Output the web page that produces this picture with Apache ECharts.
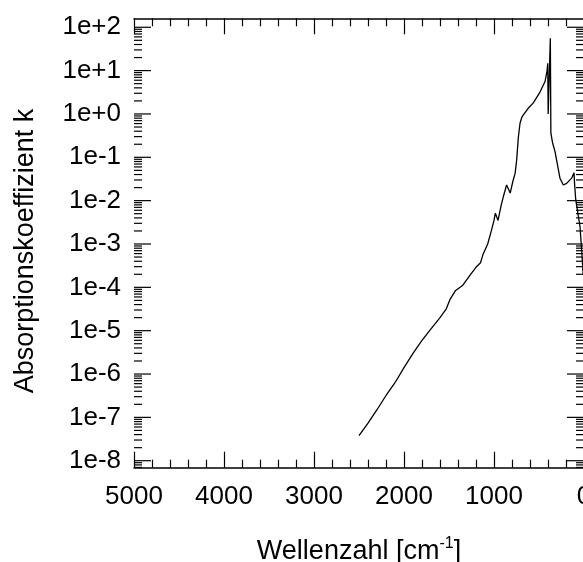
<!DOCTYPE html>
<html>
<head>
<meta charset="utf-8">
<script src="https://cdn.jsdelivr.net/npm/echarts@6/dist/echarts.min.js"></script>
<style>
html, body { margin: 0; padding: 0; background: #fff; }
#chart { width: 583px; height: 562px; }
</style>
</head>
<body>
<div id="chart"></div>
<script>
// Wellenzahl [cm^-1] and Absorptionskoeffizient k
const wavenumber = [2500, 2400, 2300, 2200, 2100, 2000, 1900, 1800, 1700, 1600,
    1530, 1490, 1430, 1350, 1260, 1200, 1150, 1120, 1070, 1030,
    1000, 985, 955, 920, 895, 860, 820, 790, 765, 748,
    730, 711, 690, 674, 620, 563, 489, 433, 410, 403,
    398, 374, 368, 350, 322, 300, 267, 230, 193, 137,
    111, 105, 92, 44, 26, 19, 10]
const kValues = [3.8e-8, 7.4e-8, 1.5e-7, 3.2e-7, 6.3e-7, 1.4e-6, 3.0e-6, 6.0e-6, 1.1e-5, 2.0e-5,
    3.2e-5, 5.2e-5, 8.3e-5, 1.1e-4, 2.0e-4, 2.9e-4, 3.7e-4, 5.9e-4, 1.0e-3, 2.0e-3,
    3.5e-3, 5.1e-3, 3.5e-3, 7.9e-3, 1.26e-2, 2.3e-2, 1.5e-2, 2.8e-2, 4.3e-2, 8.7e-2,
    0.28, 0.61, 0.85, 0.95, 1.35, 1.8, 3.2, 5.6, 10, 14.8,
    1.0, 56, 0.36, 0.22, 0.135, 0.13, 0.033, 0.023, 0.025, 0.033,
    0.044, 0.025, 0.0105, 0.0025, 7.2e-4, 4.3e-4, 2e-4]

const xTickLabels = ['0', '1000', '2000', '3000', '4000', '5000']
const yTickLabels = ['1e-8', '1e-7', '1e-6', '1e-5', '1e-4', '1e-3', '1e-2', '1e-1', '1e+0', '1e+1', '1e+2']
// frame range of the plot (a bit wider than the decade ticks)
const yMin = 6.9e-9
const yMax = 161

// decade (long) and 2..9 (short) ticks of the log axis
const majorTicks = yTickLabels.map((s, i) => Math.pow(10, i - 8))
let minorTicks = []
for (let e = -9; e <= 2; e++) {
    for (let m = 2; m <= 9; m++) {
        let v = m * Math.pow(10, e)
        if (v > yMin && v < yMax) minorTicks.push(v)
    }
}

const font = 'Liberation Sans, Arial, Helvetica, sans-serif'
const axisColor = '#000'
const tickStyle = { color: axisColor, width: 1.2 }

// draws a tick pair (left and right frame) for each y value
function tickRenderer(len) {
    return function (params, api) {
        let v = api.value(1)
        let l = api.coord([5000, v])
        let r = api.coord([0, v])
        return {
            type: 'group',
            children: [
                { type: 'line', shape: { x1: l[0], y1: l[1], x2: l[0] + len, y2: l[1] }, style: { stroke: axisColor, lineWidth: 1.2 } },
                { type: 'line', shape: { x1: r[0] - len, y1: r[1], x2: r[0], y2: r[1] }, style: { stroke: axisColor, lineWidth: 1.2 } }
            ]
        }
    }
}

let chart = echarts.init(document.getElementById('chart'))
chart.setOption({
    animation: false,
    grid: [
        // frame / data grid
        { left: 134, right: -1, top: 18.3, bottom: 94.3, outerBoundsMode: 'none' },
        // decade grid (1e-8 .. 1e+2), same scale, only for the labels
        { left: 134, right: -1, top: 27.3, bottom: 101.3, outerBoundsMode: 'none' }
    ],
    xAxis: [
        {
            type: 'value',
            min: 0,
            max: 5000,
            interval: 1000,
            inverse: true,
            name: '{a|Wellenzahl [cm}{s|-1}{a|]}',
            nameLocation: 'middle',
            nameGap: 68,
            nameTextStyle: {
                rich: {
                    a: { fontFamily: font, fontSize: 27, color: '#000', lineHeight: 32 },
                    s: { fontFamily: font, fontSize: 16, color: '#000', verticalAlign: 'top', lineHeight: 32 }
                }
            },
            axisLine: { lineStyle: { color: axisColor, width: 1.5 } },
            axisTick: { inside: true, length: 16, lineStyle: tickStyle },
            minorTick: { show: true, splitNumber: 5, length: 8, lineStyle: tickStyle },
            splitLine: { show: false },
            axisLabel: {
                fontFamily: font, fontSize: 26, color: '#000', margin: 16,
                formatter: function (v) { return xTickLabels[Math.round(v / 1000)] }
            }
        },
        {
            type: 'value',
            position: 'top',
            min: 0,
            max: 5000,
            interval: 1000,
            inverse: true,
            axisLine: { lineStyle: { color: axisColor, width: 1.5 } },
            axisTick: { inside: true, length: 16, lineStyle: tickStyle },
            minorTick: { show: true, splitNumber: 5, length: 8, lineStyle: tickStyle },
            splitLine: { show: false },
            axisLabel: { show: false }
        },
        {
            gridIndex: 1,
            type: 'value',
            min: 0,
            max: 5000,
            inverse: true,
            show: false
        }
    ],
    yAxis: [
        {
            type: 'log',
            logBase: 10,
            min: yMin,
            max: yMax,
            name: 'Absorptionskoeffizient k',
            nameLocation: 'middle',
            nameGap: 95,
            nameTextStyle: { fontFamily: font, fontSize: 27, color: '#000', padding: [0, 16, 0, 0] },
            axisLine: { lineStyle: { color: axisColor, width: 1.5 } },
            axisTick: { show: false },
            splitLine: { show: false },
            axisLabel: { show: false }
        },
        {
            type: 'log',
            logBase: 10,
            position: 'right',
            min: yMin,
            max: yMax,
            axisLine: { lineStyle: { color: axisColor, width: 1.5 } },
            axisTick: { show: false },
            splitLine: { show: false },
            axisLabel: { show: false }
        },
        {
            gridIndex: 1,
            type: 'log',
            logBase: 10,
            min: 1e-8,
            max: 1e2,
            interval: 1,
            axisLine: { show: false },
            axisTick: { show: false },
            splitLine: { show: false },
            axisLabel: {
                fontFamily: font, fontSize: 26, color: '#000', margin: 13,
                formatter: function (v) {
                    let e = Math.round(Math.log10(v))
                    return yTickLabels[e + 8] || ''
                }
            }
        }
    ],
    series: [
        {
            type: 'line',
            data: wavenumber.map((w, i) => [w, kValues[i]]),
            showSymbol: false,
            lineStyle: { color: '#000', width: 1.3 },
            clip: true
        },
        {
            type: 'custom',
            data: majorTicks.map(v => [5000, v]),
            silent: true,
            renderItem: tickRenderer(17)
        },
        {
            type: 'custom',
            data: minorTicks.map(v => [5000, v]),
            silent: true,
            renderItem: tickRenderer(8)
        }
    ]
})
</script>
</body>
</html>
